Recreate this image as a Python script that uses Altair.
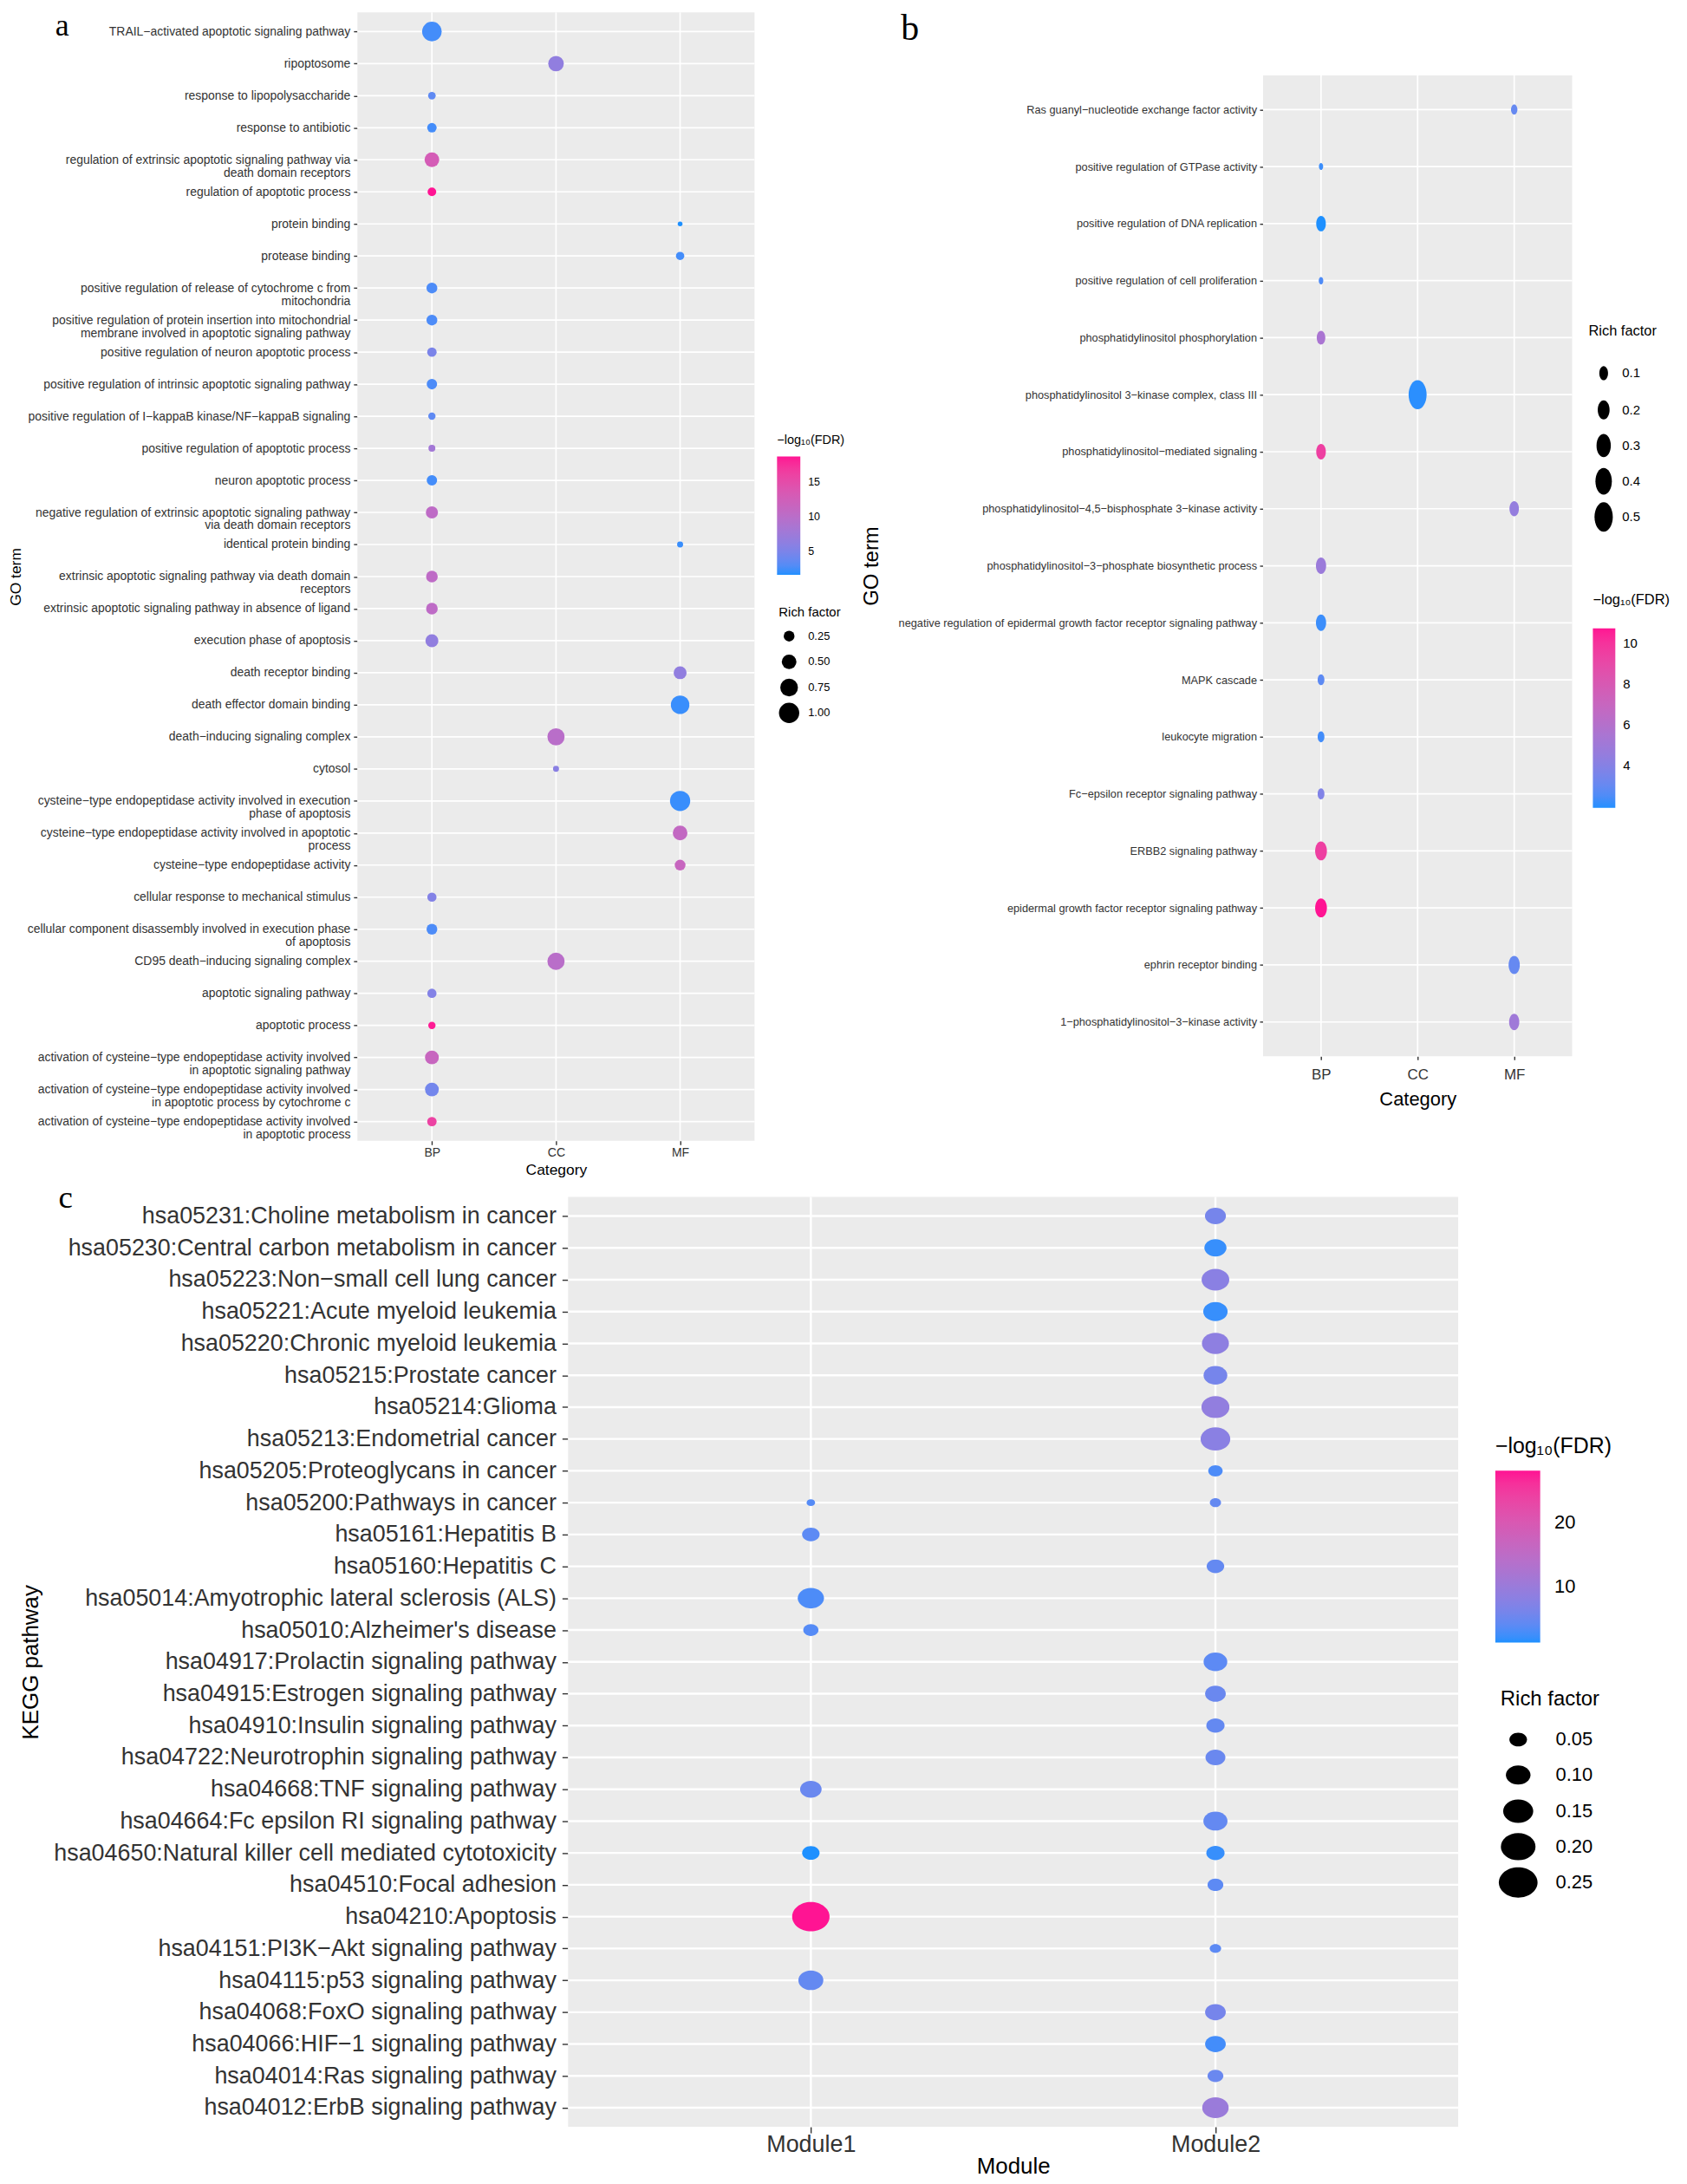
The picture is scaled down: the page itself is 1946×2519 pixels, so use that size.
import altair as alt
import pandas as pd

SANS = "Liberation Sans, Arial, sans-serif"
SERIF = "Liberation Serif, Times New Roman, serif"
LOW, HIGH = "#1E90FF", "#FF1493"
PANEL_BG = "#EBEBEB"
TXT = "#333333"

# ---------------- panel a : GO terms (module 1) ----------------
a_categories = ["BP", "CC", "MF"]
a_terms = [
    "TRAIL−activated apoptotic signaling pathway",
    "ripoptosome",
    "response to lipopolysaccharide",
    "response to antibiotic",
    "regulation of extrinsic apoptotic signaling pathway via\ndeath domain receptors",
    "regulation of apoptotic process",
    "protein binding",
    "protease binding",
    "positive regulation of release of cytochrome c from\nmitochondria",
    "positive regulation of protein insertion into mitochondrial\nmembrane involved in apoptotic signaling pathway",
    "positive regulation of neuron apoptotic process",
    "positive regulation of intrinsic apoptotic signaling pathway",
    "positive regulation of I−kappaB kinase/NF−kappaB signaling",
    "positive regulation of apoptotic process",
    "neuron apoptotic process",
    "negative regulation of extrinsic apoptotic signaling pathway\nvia death domain receptors",
    "identical protein binding",
    "extrinsic apoptotic signaling pathway via death domain\nreceptors",
    "extrinsic apoptotic signaling pathway in absence of ligand",
    "execution phase of apoptosis",
    "death receptor binding",
    "death effector domain binding",
    "death−inducing signaling complex",
    "cytosol",
    "cysteine−type endopeptidase activity involved in execution\nphase of apoptosis",
    "cysteine−type endopeptidase activity involved in apoptotic\nprocess",
    "cysteine−type endopeptidase activity",
    "cellular response to mechanical stimulus",
    "cellular component disassembly involved in execution phase\nof apoptosis",
    "CD95 death−inducing signaling complex",
    "apoptotic signaling pathway",
    "apoptotic process",
    "activation of cysteine−type endopeptidase activity involved\nin apoptotic signaling pathway",
    "activation of cysteine−type endopeptidase activity involved\nin apoptotic process by cytochrome c",
    "activation of cysteine−type endopeptidase activity involved\nin apoptotic process",
]
a_category = ["BP", "CC", "BP", "BP", "BP", "BP", "MF", "MF", "BP", "BP", "BP", "BP",
              "BP", "BP", "BP", "BP", "MF", "BP", "BP", "BP", "MF", "MF", "CC", "CC",
              "MF", "MF", "MF", "BP", "BP", "CC", "BP", "BP", "BP", "BP", "BP"]
a_rich = [0.93, 0.57, 0.10, 0.18, 0.50, 0.14, 0.01, 0.13, 0.25, 0.25, 0.18, 0.23,
          0.09, 0.075, 0.23, 0.33, 0.045, 0.30, 0.30, 0.38, 0.38, 0.83, 0.71, 0.045,
          1.00, 0.50, 0.25, 0.17, 0.25, 0.71, 0.17, 0.09, 0.44, 0.44, 0.18]
a_logfdr = [2.5, 6.5, 3.5, 2.5, 13.0, 18.7, 1.7, 2.5, 2.8, 2.8, 5.0, 2.8,
            3.5, 8.0, 2.5, 10.5, 2.2, 10.5, 10.5, 6.5, 6.5, 2.2, 10.0, 6.0,
            2.2, 11.0, 11.5, 5.5, 2.8, 10.0, 5.5, 18.5, 11.5, 4.5, 16.0]

# ---------------- panel b : GO terms (module 2) ----------------
b_categories = ["BP", "CC", "MF"]
b_terms = [
    "Ras guanyl−nucleotide exchange factor activity",
    "positive regulation of GTPase activity",
    "positive regulation of DNA replication",
    "positive regulation of cell proliferation",
    "phosphatidylinositol phosphorylation",
    "phosphatidylinositol 3−kinase complex, class III",
    "phosphatidylinositol−mediated signaling",
    "phosphatidylinositol−4,5−bisphosphate 3−kinase activity",
    "phosphatidylinositol−3−phosphate biosynthetic process",
    "negative regulation of epidermal growth factor receptor signaling pathway",
    "MAPK cascade",
    "leukocyte migration",
    "Fc−epsilon receptor signaling pathway",
    "ERBB2 signaling pathway",
    "epidermal growth factor receptor signaling pathway",
    "ephrin receptor binding",
    "1−phosphatidylinositol−3−kinase activity",
]
b_category = ["MF", "BP", "BP", "BP", "BP", "CC", "BP", "MF", "BP", "BP", "BP",
              "BP", "BP", "BP", "BP", "MF", "MF"]
b_rich = [0.046, 0.011, 0.126, 0.015, 0.096, 0.484, 0.126, 0.12, 0.143, 0.143,
          0.053, 0.053, 0.053, 0.197, 0.197, 0.178, 0.143]
b_logfdr = [3.0, 2.2, 1.9, 2.5, 5.5, 2.0, 9.5, 4.5, 4.8, 2.2, 2.8, 2.3, 3.8,
            9.5, 10.75, 3.0, 5.0]

# ---------------- panel c : KEGG pathways ----------------
c_modules = ["Module1", "Module2"]
c_pathways = [
    "hsa05231:Choline metabolism in cancer",
    "hsa05230:Central carbon metabolism in cancer",
    "hsa05223:Non−small cell lung cancer",
    "hsa05221:Acute myeloid leukemia",
    "hsa05220:Chronic myeloid leukemia",
    "hsa05215:Prostate cancer",
    "hsa05214:Glioma",
    "hsa05213:Endometrial cancer",
    "hsa05205:Proteoglycans in cancer",
    "hsa05200:Pathways in cancer",
    "hsa05161:Hepatitis B",
    "hsa05160:Hepatitis C",
    "hsa05014:Amyotrophic lateral sclerosis (ALS)",
    "hsa05010:Alzheimer's disease",
    "hsa04917:Prolactin signaling pathway",
    "hsa04915:Estrogen signaling pathway",
    "hsa04910:Insulin signaling pathway",
    "hsa04722:Neurotrophin signaling pathway",
    "hsa04668:TNF signaling pathway",
    "hsa04664:Fc epsilon RI signaling pathway",
    "hsa04650:Natural killer cell mediated cytotoxicity",
    "hsa04510:Focal adhesion",
    "hsa04210:Apoptosis",
    "hsa04151:PI3K−Akt signaling pathway",
    "hsa04115:p53 signaling pathway",
    "hsa04068:FoxO signaling pathway",
    "hsa04066:HIF−1 signaling pathway",
    "hsa04014:Ras signaling pathway",
    "hsa04012:ErbB signaling pathway",
]
c_point_pathway = [
    c_pathways[0], c_pathways[1], c_pathways[2], c_pathways[3], c_pathways[4],
    c_pathways[5], c_pathways[6], c_pathways[7], c_pathways[8], c_pathways[9],
    c_pathways[9], c_pathways[10], c_pathways[11], c_pathways[12], c_pathways[13],
    c_pathways[14], c_pathways[15], c_pathways[16], c_pathways[17], c_pathways[18],
    c_pathways[19], c_pathways[20], c_pathways[20], c_pathways[21], c_pathways[22],
    c_pathways[23], c_pathways[24], c_pathways[25], c_pathways[26], c_pathways[27],
    c_pathways[28],
]
c_point_module = [
    "Module2", "Module2", "Module2", "Module2", "Module2", "Module2", "Module2",
    "Module2", "Module2", "Module1", "Module2", "Module1", "Module2", "Module1",
    "Module1", "Module2", "Module2", "Module2", "Module2", "Module1", "Module2",
    "Module1", "Module2", "Module2", "Module1", "Module2", "Module1", "Module2",
    "Module2", "Module2", "Module2",
]
c_point_rich = [0.072, 0.080, 0.127, 0.098, 0.121, 0.093, 0.130, 0.146, 0.033,
                0.010, 0.019, 0.050, 0.050, 0.114, 0.037, 0.093, 0.070, 0.054,
                0.065, 0.076, 0.096, 0.049, 0.054, 0.040, 0.233, 0.020, 0.103,
                0.070, 0.070, 0.040, 0.116]
c_point_logfdr = [6.0, 2.0, 8.0, 2.0, 8.5, 6.0, 9.0, 8.0, 3.0, 3.5, 4.5, 4.0,
                  4.5, 3.0, 3.5, 4.0, 5.0, 4.5, 5.0, 5.0, 4.5, 1.3, 2.0, 4.0,
                  28.0, 4.0, 4.5, 6.0, 2.5, 5.0, 10.0]

# ---------------- layout (pixels of the canvas) ----------------
W, H = 1938, 2511
A_X, A_Y = [406, 866], [1, 1308]
B_X, B_Y = [1455, 1813], [74, 1210]
C_X, C_Y = [650, 1681], [1373, 2450]
ELLIPSE_TALL = "M 0 -1 A 0.62 1 0 1 1 0 1 A 0.62 1 0 1 1 0 -1 Z"
ELLIPSE_WIDE = "M -1.12 0 A 1.12 0.875 0 1 1 1.12 0 A 1.12 0.875 0 1 1 -1.12 0 Z"


def panel(points, xfield, yfield, x_domain, y_domain, xr, yr, grid_w, shape,
          size_scale, color_scale, x_axis, y_axis, size_legend, color_legend):
    xs = alt.Scale(type="point", domain=x_domain, range=xr, padding=0.6)
    ys = alt.Scale(type="point", domain=y_domain, range=yr, padding=0.6)
    bg = alt.Chart(pd.DataFrame({"bg": [0]})).mark_rect(color=PANEL_BG).encode(
        x=alt.value(xr[0]), x2=alt.value(xr[1]), y=alt.value(yr[0]), y2=alt.value(yr[1]))
    vgrid = alt.Chart(pd.DataFrame({xfield: x_domain})).mark_rule(
        color="white", strokeWidth=grid_w).encode(
        x=alt.X(f"{xfield}:N", scale=xs, axis=x_axis),
        y=alt.value(yr[0]), y2=alt.value(yr[1]))
    hgrid = alt.Chart(pd.DataFrame({yfield: y_domain})).mark_rule(
        color="white", strokeWidth=grid_w).encode(
        y=alt.Y(f"{yfield}:N", scale=ys, axis=y_axis),
        x=alt.value(xr[0]), x2=alt.value(xr[1]))
    pts = alt.Chart(points).mark_point(
        filled=True, opacity=1, shape=shape, strokeWidth=0).encode(
        x=alt.X(f"{xfield}:N", scale=xs, axis=x_axis),
        y=alt.Y(f"{yfield}:N", scale=ys, axis=y_axis),
        size=alt.Size("rich:Q", scale=size_scale, legend=size_legend),
        color=alt.Color("logfdr:Q", scale=color_scale, legend=color_legend),
    )
    return alt.layer(bg, vgrid, hgrid, pts)


def axis(orient, offset, title, lsize, tsize, lpad, tick, tpad, extent=None, **kw):
    args = dict(orient=orient, offset=offset, title=title, labelFont=SANS,
                labelFontSize=lsize, labelColor=TXT, labelPadding=lpad,
                labelLimit=1000, labelOverlap=False, tickSize=tick,
                tickWidth=1.4, tickColor=TXT, domain=False, grid=False,
                titleFont=SANS, titleFontSize=tsize, titleFontWeight="normal",
                titleColor="black", titlePadding=tpad)
    if extent is not None:
        args["minExtent"] = extent
        args["maxExtent"] = extent
    if orient == "bottom":
        args["labelAngle"] = 0
    args.update(kw)
    return alt.Axis(**args)


def color_legend(x, y, length, thick, values, lsize, tsize, loff, tpad):
    return alt.Legend(title="−log₁₀(FDR)", orient="none", legendX=x, legendY=y,
                      direction="vertical", gradientLength=length,
                      gradientThickness=thick, gradientStrokeWidth=0,
                      values=values, labelFont=SANS, labelFontSize=lsize,
                      labelColor="black", labelOffset=loff, titleFont=SANS,
                      titleFontSize=tsize, titleFontWeight="normal",
                      titleColor="black", titlePadding=tpad)


def size_legend(x, y, values, fmt, shape, lsize, tsize, loff, rpad, tpad):
    return alt.Legend(title="Rich factor", orient="none", legendX=x, legendY=y,
                      direction="vertical", values=values, format=fmt,
                      symbolType=shape, symbolFillColor="black",
                      symbolStrokeColor="black", symbolStrokeWidth=0,
                      symbolOpacity=1, labelFont=SANS, labelFontSize=lsize,
                      labelColor="black", labelOffset=loff, rowPadding=rpad,
                      gridAlign="all", titleFont=SANS, titleFontSize=tsize,
                      titleFontWeight="normal", titleColor="black",
                      titlePadding=tpad)


df_a = pd.DataFrame({"cat": a_category, "term": a_terms, "rich": a_rich, "logfdr": a_logfdr})
df_b = pd.DataFrame({"cat": b_category, "term": b_terms, "rich": b_rich, "logfdr": b_logfdr})
df_c = pd.DataFrame({"module": c_point_module, "term": c_point_pathway,
                     "rich": c_point_rich, "logfdr": c_point_logfdr})

panel_a = panel(
    df_a, "cat", "term", a_categories, a_terms, A_X, A_Y, 1.7, "circle",
    alt.Scale(domain=[0, 1], range=[25, 550]),
    alt.Scale(domain=[1.7, 18.7], range=[LOW, HIGH], interpolate="lab"),
    axis("bottom", A_Y[1] - H, "Category", 14, 17.5, 2.5, 4.5, 3.5),
    axis("left", -A_X[0], "GO term", 14, 17.5, 4, 4.5, 4, extent=382,
         labelExpr="split(datum.label, '\\n')", labelLineHeight=15),
    size_legend(894, 689, [0.25, 0.5, 0.75, 1.0], ".2f", "circle", 13, 15, 10, 3.8, 13),
    color_legend(892, 490, 137, 27, [5, 10, 15], 12.5, 14.5, 9, 11),
)

panel_b = panel(
    df_b, "cat", "term", b_categories, b_terms, B_X, B_Y, 1.7, ELLIPSE_TALL,
    alt.Scale(domain=[0, 0.5], range=[40, 1165]),
    alt.Scale(domain=[1.9, 10.75], range=[LOW, HIGH], interpolate="lab"),
    axis("bottom", B_Y[1] - H, "Category", 17, 22, 9.5, 4, 10),
    axis("left", -B_X[0], "GO term", 12.8, 24, 3.5, 4, 2, extent=439),
    size_legend(1832, 362, [0.1, 0.2, 0.3, 0.4, 0.5], ".1f", ELLIPSE_TALL, 15, 16.5, 4, 4.4, 32),
    color_legend(1837, 674, 208, 26, [4, 6, 8, 10], 15, 16.5, 9, 24),
)

panel_c = panel(
    df_c, "module", "term", c_modules, c_pathways, C_X, C_Y, 2.4, ELLIPSE_WIDE,
    alt.Scale(domain=[0, 0.25], range=[12.8, 1602]),
    alt.Scale(domain=[1.3, 28], range=[LOW, HIGH], interpolate="lab"),
    axis("bottom", C_Y[1] - H, "Module", 27, 26, 1, 7, -1),
    axis("left", -C_X[0], "KEGG pathway", 27, 26, 7, 7, 9, extent=600),
    size_legend(1730, 1943, [0.05, 0.10, 0.15, 0.20, 0.25], ".2f", ELLIPSE_WIDE, 22, 24, 23, 0, 23.5),
    color_legend(1724, 1650, 199, 52, [10, 20], 22, 25, 16.5, 15),
)


def letter(t, x, y, size, baseline):
    return alt.Chart(pd.DataFrame({"t": [t]})).mark_text(
        font=SERIF, fontSize=size, align="center", baseline=baseline,
        color="black").encode(text="t:N", x=alt.value(x), y=alt.value(y))


chart = alt.layer(
    panel_a, panel_b, panel_c,
    letter("a", 64, 0, 36, "top"), letter("b", 1046, 0, 42, "top"),
    letter("c", 68, 1386, 37, "alphabetic"),
).resolve_scale(
    x="independent", y="independent", color="independent", size="independent"
).resolve_legend(
    color="independent", size="independent"
).properties(
    width=W, height=H, padding=0, background="white",
    autosize=alt.AutoSizeParams(type="none"),
).configure_view(stroke="transparent")

chart.save("out.html", embed_options={"renderer": "svg", "actions": False})
